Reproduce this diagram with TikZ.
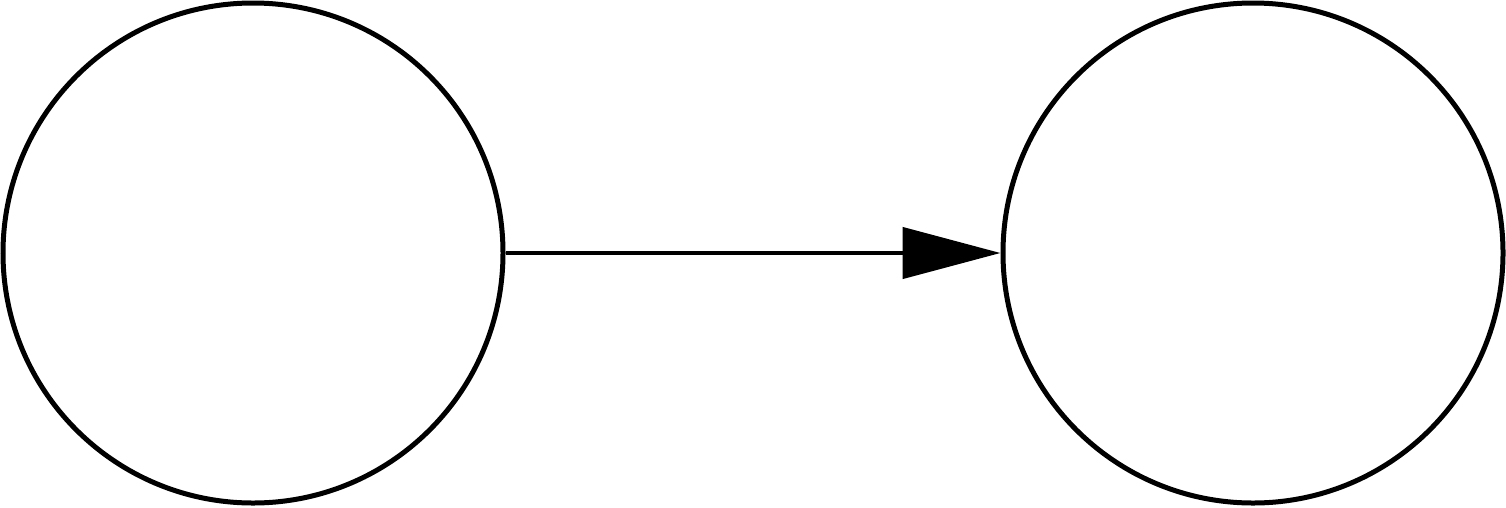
\documentclass[tikz,border=0pt]{standalone}
\usetikzlibrary{arrows.meta}
\begin{document}
\begin{tikzpicture}[x=1pt,y=-1pt,
  state/.style={circle,draw=black,line width=5pt,minimum size=500pt,inner sep=0pt,fill=white},
  conn/.style={line width=4.5pt,-{Triangle[length=98pt,width=51pt]}}]
\useasboundingbox (0,0) rectangle (1506,507);
\node[state] (a) at (253,253) {};
\node[state] (b) at (1253,253) {};
\draw[conn] (a) -- (b);
\end{tikzpicture}
\end{document}
